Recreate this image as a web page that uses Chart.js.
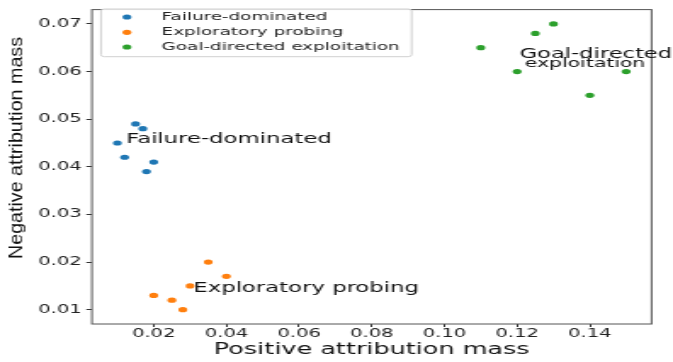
<!DOCTYPE html>
<html><head><meta charset="utf-8">
<script src="https://cdn.jsdelivr.net/npm/chart.js@4.4.0/dist/chart.umd.min.js"></script>
<style>
html,body{margin:0;padding:0;background:#fff;overflow:hidden}
#wrap{width:673px;height:362px;overflow:hidden;position:relative;background:#fff}
#c{display:block;transform:scaleX(1.6995);transform-origin:0 0}
</style></head><body>
<div id="wrap"><canvas id="c" width="396" height="362" style="width:396px;height:362px"></canvas></div>
<script>
// ---- data ----
const seriesNames = ['Failure-dominated', 'Exploratory probing', 'Goal-directed exploitation'];
const failureX = [0.015, 0.017, 0.010, 0.012, 0.018, 0.020];
const failureY = [0.049, 0.048, 0.045, 0.042, 0.039, 0.041];
const probingX = [0.020, 0.025, 0.028, 0.030, 0.035, 0.040];
const probingY = [0.013, 0.012, 0.010, 0.015, 0.020, 0.017];
const goalX = [0.110, 0.120, 0.125, 0.130, 0.140, 0.150];
const goalY = [0.065, 0.060, 0.068, 0.070, 0.055, 0.060];
const xTicks = [0.02, 0.04, 0.06, 0.08, 0.10, 0.12, 0.14];
const yTicks = [0.01, 0.02, 0.03, 0.04, 0.05, 0.06, 0.07];
const xTitle = 'Positive attribution mass';
const yTitle = 'Negative attribution mass';
const annotationTexts = ['Failure-dominated', 'Exploratory probing', 'Goal-directed', 'exploitation'];
const annotationX = [0.0124, 0.0309, 0.1207, 0.1221];
const annotationY = [0.0451, 0.0138, 0.0629, 0.0610];

// ---- styles ----
const colors = ['#1f77b4', '#ff7f0e', '#2ca02c'];
const annotationSizes = [13.4, 13.4, 13.3, 12];
const FONT = "'DejaVu Sans', sans-serif";

const pts = (xs, ys) => xs.map((x, i) => ({x: x, y: ys[i]}));
const seriesData = [pts(failureX, failureY), pts(probingX, probingY), pts(goalX, goalY)];

const extras = {
  id: 'extras',
  afterDatasetsDraw(chart) {
    const ctx = chart.ctx, a = chart.chartArea, xs = chart.scales.x, ys = chart.scales.y;
    ctx.save();
    // frame
    ctx.strokeStyle = '#555';
    ctx.lineWidth = 1;
    ctx.strokeRect(a.left, a.top, a.right - a.left, a.bottom - a.top);
    // annotations
    ctx.fillStyle = '#111';
    ctx.textAlign = 'left';
    ctx.textBaseline = 'alphabetic';
    annotationTexts.forEach((t, i) => {
      ctx.font = annotationSizes[i] + 'px ' + FONT;
      ctx.fillText(t, xs.getPixelForValue(annotationX[i]), ys.getPixelForValue(annotationY[i]));
    });
    // legend
    const lx = 59.4, ly = 9, lw = 182.8, lh = 47.7, r = 2;
    ctx.beginPath();
    ctx.moveTo(lx + r, ly);
    ctx.lineTo(lx + lw - r, ly); ctx.quadraticCurveTo(lx + lw, ly, lx + lw, ly + r);
    ctx.lineTo(lx + lw, ly + lh - r); ctx.quadraticCurveTo(lx + lw, ly + lh, lx + lw - r, ly + lh);
    ctx.lineTo(lx + r, ly + lh); ctx.quadraticCurveTo(lx, ly + lh, lx, ly + lh - r);
    ctx.lineTo(lx, ly + r); ctx.quadraticCurveTo(lx, ly, lx + r, ly);
    ctx.closePath();
    ctx.fillStyle = 'rgba(255,255,255,0.85)';
    ctx.fill();
    ctx.strokeStyle = '#d0d0d0';
    ctx.lineWidth = 1;
    ctx.stroke();
    const rows = [17, 32.3, 47];
    chart.data.datasets.forEach((ds, i) => {
      ctx.beginPath();
      ctx.fillStyle = ds.backgroundColor;
      ctx.arc(74.7, rows[i], 2.6, 0, Math.PI * 2);
      ctx.fill();
      ctx.fillStyle = '#222';
      ctx.font = '10.8px ' + FONT;
      ctx.textBaseline = 'middle';
      ctx.textAlign = 'left';
      ctx.fillText(ds.label, 95.1, rows[i]);
    });
    // x title
    ctx.fillStyle = '#111';
    ctx.font = '15px ' + FONT;
    ctx.textAlign = 'center';
    ctx.textBaseline = 'alphabetic';
    ctx.fillText(xTitle, (a.left + a.right) / 2, 354.3);
    // y title
    ctx.save();
    ctx.translate(13.2, 148);
    ctx.rotate(-Math.PI / 2);
    ctx.scale(1.23, 0.7);
    ctx.font = "16px 'Liberation Sans', Arial, sans-serif";
    ctx.textAlign = 'center';
    ctx.fillText(yTitle, 0, 0);
    ctx.restore();
    ctx.restore();
  }
};

new Chart(document.getElementById('c'), {
  type: 'scatter',
  data: {
    datasets: seriesData.map((d, i) => ({
      label: seriesNames[i],
      data: d,
      backgroundColor: colors[i],
      borderColor: colors[i],
      pointRadius: 2.6,
      pointBorderWidth: 0,
      pointHoverRadius: 2.6
    }))
  },
  options: {
    responsive: false,
    animation: false,
    events: [],
    devicePixelRatio: 1,
    layout: {padding: {left: 0, top: 4, right: 12.6, bottom: 0}},
    plugins: {legend: {display: false}, tooltip: {enabled: false}},
    scales: {
      x: {
        type: 'linear', min: 0.003, max: 0.157,
        afterFit: s => { s.height = 38; },
        afterBuildTicks: s => { s.ticks = xTicks.map(v => ({value: v})); },
        border: {display: false},
        grid: {drawOnChartArea: false, drawTicks: true, tickLength: 3, tickColor: '#333', lineWidth: 1},
        ticks: {padding: 0.5, color: '#222', font: {family: FONT, size: 11.5}, callback: v => Number(v).toFixed(2), maxRotation: 0, autoSkip: false}
      },
      y: {
        type: 'linear', min: 0.007, max: 0.073,
        afterFit: s => { s.width = 54.1; },
        afterBuildTicks: s => { s.ticks = yTicks.map(v => ({value: v})); },
        border: {display: false},
        grid: {drawOnChartArea: false, drawTicks: true, tickLength: 3.3, tickColor: '#333', lineWidth: 1},
        ticks: {padding: 2.7, color: '#222', font: {family: FONT, size: 11.5}, callback: v => Number(v).toFixed(2), autoSkip: false}
      }
    }
  },
  plugins: [extras]
});
</script>
</body></html>
